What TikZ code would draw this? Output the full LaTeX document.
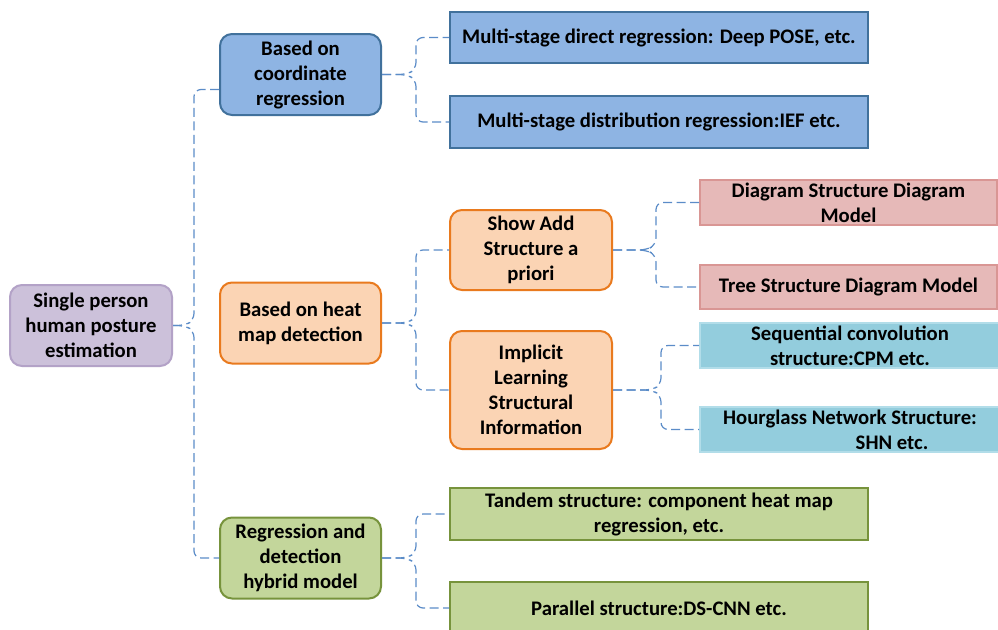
\documentclass[tikz,border=0pt]{standalone}
\usepackage{fontspec}
\setmainfont{Carlito}
\usetikzlibrary{calc}
\definecolor{purF}{HTML}{CCC1DA}\definecolor{purD}{HTML}{B3A2C7}
\definecolor{bluF}{HTML}{8EB4E3}\definecolor{bluD}{HTML}{41719C}
\definecolor{oraF}{HTML}{FBD4B4}\definecolor{oraD}{HTML}{E97A1E}
\definecolor{grnF}{HTML}{C3D69B}\definecolor{grnD}{HTML}{77933C}
\definecolor{pnkF}{HTML}{E6B9B8}\definecolor{pnkD}{HTML}{D99694}
\definecolor{cynF}{HTML}{93CDDD}\definecolor{cynD}{HTML}{B2DDE9}
\definecolor{conC}{HTML}{5B8CC8}
\tikzset{
  base/.style={inner sep=0pt, align=center, font=\fontsize{20.7}{25}\selectfont\bfseries, line width=2pt},
  rbox/.style={base, rounded corners=12pt, minimum width=161pt, minimum height=81pt},
  sbox/.style={base, rectangle, line width=1.8pt},
  conn/.style={draw=conC, line width=1.2pt, dash pattern=on 9pt off 4.5pt, rounded corners=7pt},
}
\newcommand\blink[4]{\draw[conn] (#1.east) -- ++(#3,0) -- ++(10,#4) |- (#2);}
\begin{document}
\begin{tikzpicture}[x=1pt,y=-1pt]
\clip (0,0) rectangle (998,629);
\fill[white] (0,0) rectangle (998,629);
% root
\node[rbox, fill=purF, draw=purD, minimum width=162pt] (root) at (91,325.5) {Single person\\human posture\\estimation};
% level 1
\node[rbox, fill=bluF, draw=bluD] (b1) at (300.5,74.5) {Based on\\coordinate\\regression};
\node[rbox, fill=oraF, draw=oraD] (o1) at (300.5,323) {Based on heat\\map detection};
\node[rbox, fill=grnF, draw=grnD] (g1) at (300.5,558) {Regression and\\detection\\hybrid model};
% level 2 blue
\node[sbox, fill=bluF, draw=bluD, minimum width=418pt, minimum height=51pt] (rb1) at (659,37.5) {Multi-stage direct regression: Deep POSE, etc.};
\node[sbox, fill=bluF, draw=bluD, minimum width=418pt, minimum height=52pt] (rb2) at (659,122) {Multi-stage distribution regression:IEF etc.};
% level 2 orange
\node[rbox, fill=oraF, draw=oraD, minimum width=162pt, minimum height=80pt] (o2a) at (531,250) {Show Add\\Structure a\\priori};
\node[rbox, fill=oraF, draw=oraD, minimum width=162pt, minimum height=118pt] (o2b) at (531,390) {Implicit\\Learning\\Structural\\Information};
% level 3
\node[sbox, fill=pnkF, draw=pnkD, minimum width=297pt, minimum height=45pt] (p1) at (848.5,202.5) {Diagram Structure Diagram\\Model};
\node[sbox, fill=pnkF, draw=pnkD, minimum width=297pt, minimum height=44pt] (p2) at (848.5,287) {Tree Structure Diagram Model};
\node[sbox, fill=cynF, draw=cynD, minimum width=300pt, minimum height=45pt] (c1) at (850,345.5) {Sequential convolution\\structure:CPM etc.};
\node[sbox, fill=cynF, draw=cynD, minimum width=300pt, minimum height=45pt] (c2) at (850,429.5) {Hourglass Network Structure:\\\hspace*{84pt}SHN etc.};
% level 2 green
\node[sbox, fill=grnF, draw=grnD, minimum width=418pt, minimum height=52pt] (g2a) at (659,514) {Tandem structure: component heat map\\regression, etc.};
\node[sbox, fill=grnF, draw=grnD, minimum width=418pt, minimum height=52pt] (g2b) at (659,608) {Parallel structure:DS-CNN etc.};
% connectors
\draw[conn] (root.east) -- ++(11,0) -- ++(10,-5) |- ($(b1.west)+(0,15)$);
\draw[conn] (root.east) -- ++(11,0) -- ++(10,5) |- (g1.west);
\blink{b1}{rb1.west}{24}{-5}
\blink{b1}{rb2.west}{24}{5}
\blink{o1}{o2a.west}{24}{-5}
\blink{o1}{o2b.west}{24}{5}
\blink{g1}{g2a.west}{24}{-5}
\blink{g1}{g2b.west}{24}{5}
\blink{o2a}{p1.west}{33}{-5}
\blink{o2a}{p2.west}{33}{5}
\blink{o2b}{c1.west}{38}{-5}
\blink{o2b}{c2.west}{38}{5}
\end{tikzpicture}
\end{document}
